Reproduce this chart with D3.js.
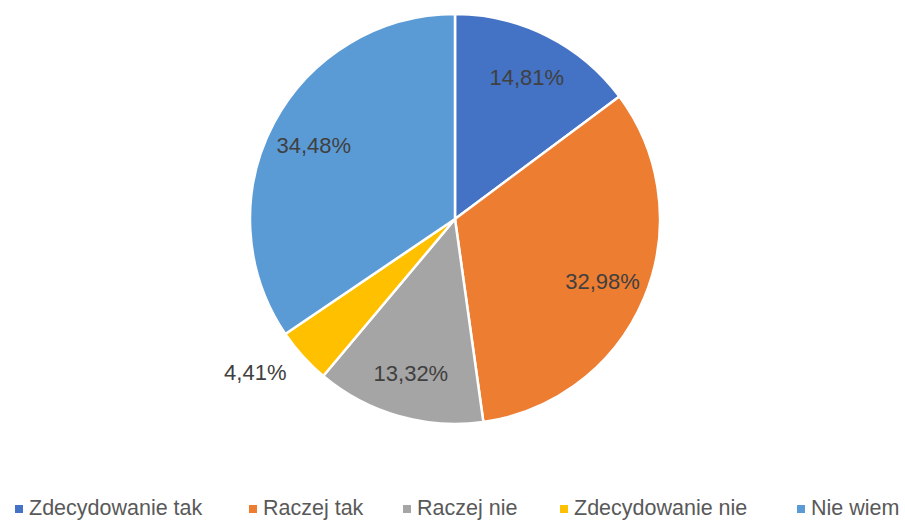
<!DOCTYPE html>
<html>
<head>
<meta charset="utf-8">
<script src="https://cdn.jsdelivr.net/npm/d3@7"></script>
<style>
  html, body { margin: 0; padding: 0; background: #fff; }
  svg { display: block; }
  text { font-family: "Liberation Sans", Arial, sans-serif; }
</style>
</head>
<body>
<svg id="chart" width="905" height="521"></svg>
<script>
// Answer categories and their shares (percent)
const categories = ["Zdecydowanie tak", "Raczej tak", "Raczej nie", "Zdecydowanie nie", "Nie wiem"];
const values = [14.81, 32.98, 13.32, 4.41, 34.48];
const colors = ["#4472C4", "#ED7D31", "#A5A5A5", "#FFC000", "#5B9BD5"];

const svg = d3.select("#chart");
const cx = 455, cy = 219, R = 205;

const fmt = v => d3.format(".2f")(v).replace(".", ",") + "%";

const pie = d3.pie().sort(null).value(d => d.value);
const data = categories.map((c, i) => ({ cat: c, value: values[i], color: colors[i] }));
const arcs = pie(data);

const arc = d3.arc().innerRadius(0).outerRadius(R);
const labelArc = d3.arc().innerRadius(R * 0.78).outerRadius(R * 0.78);

const g = svg.append("g").attr("transform", `translate(${cx},${cy})`);

g.selectAll("path.slice")
  .data(arcs)
  .enter().append("path")
  .attr("class", "slice")
  .attr("d", arc)
  .attr("fill", d => d.data.color)
  .attr("stroke", "#fff")
  .attr("stroke-width", 2.5)
  .attr("stroke-linejoin", "round");

// Value labels: inside for large slices, outside for the small one
g.selectAll("text.lbl")
  .data(arcs)
  .enter().append("text")
  .attr("class", "lbl")
  .each(function (d) {
    const small = d.data.value < 8;
    const sel = d3.select(this);
    if (small) {
      const a = (d.startAngle + d.endAngle) / 2;
      const r = R + 22;
      sel.attr("x", Math.sin(a) * r)
         .attr("y", -Math.cos(a) * r)
         .attr("text-anchor", "end");
    } else {
      const [x, y] = labelArc.centroid(d);
      sel.attr("x", x).attr("y", y).attr("text-anchor", "middle");
    }
  })
  .attr("dy", "0.4em")
  .attr("font-size", 22)
  .attr("fill", "#404040")
  .text(d => fmt(d.data.value));

// Legend along the bottom edge
const legendX = [15, 249, 403, 560, 797];
const legend = svg.append("g").attr("class", "legend");
const items = legend.selectAll("g.item")
  .data(data)
  .enter().append("g")
  .attr("class", "item")
  .attr("transform", (d, i) => `translate(${legendX[i]},0)`);

items.append("rect")
  .attr("x", 0).attr("y", 505)
  .attr("width", 8).attr("height", 8)
  .attr("fill", d => d.color);

items.append("text")
  .attr("x", 14).attr("y", 515)
  .attr("font-size", 21.5)
  .attr("fill", "#595959")
  .text(d => d.cat);
</script>
</body>
</html>
